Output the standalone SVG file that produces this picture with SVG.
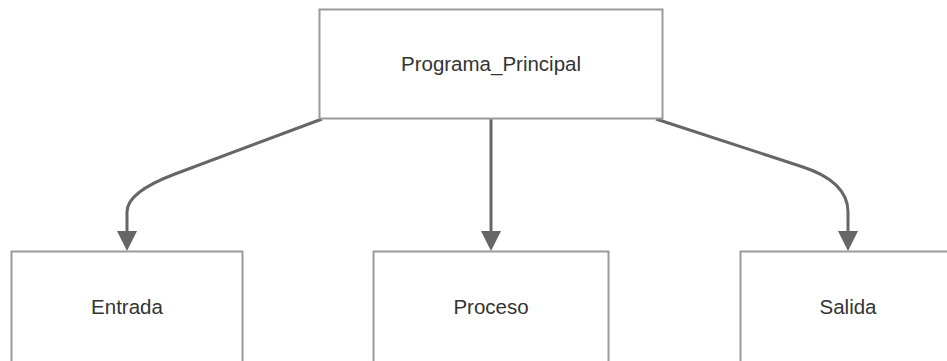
<svg xmlns="http://www.w3.org/2000/svg" width="947" height="361" viewBox="0 0 947 361">
  <style>
    .node rect { fill: #ffffff; stroke: #9a9a9a; stroke-width: 2; }
    .node text { font-family: "Liberation Sans", Arial, sans-serif; font-size: 20.5px; fill: #333333; text-anchor: middle; }
    .edge { fill: none; stroke: #666666; stroke-width: 3; }
  </style>
  <defs>
    <marker id="arrow" viewBox="0 0 10 10" refX="0" refY="5" markerUnits="userSpaceOnUse" markerWidth="20" markerHeight="21" orient="auto">
      <path d="M0,0 L10,5 L0,10 z" fill="#666666"/>
    </marker>
  </defs>

  <g id="connectors">
    <path class="edge" d="M322,119 L175,174 Q127,192 127,212 L127,231" marker-end="url(#arrow)"/>
    <path class="edge" d="M491,119 L491,231" marker-end="url(#arrow)"/>
    <path class="edge" d="M656,119 L800,166 Q848,181 848,212 L848,231" marker-end="url(#arrow)"/>
  </g>

  <g id="programa_principal" class="node">
    <rect x="319.5" y="9.5" width="343" height="109"/>
    <text x="491" y="71">Programa_Principal</text>
  </g>
  <g id="entrada" class="node">
    <rect x="11.5" y="251.5" width="231" height="112"/>
    <text x="127" y="314">Entrada</text>
  </g>
  <g id="proceso" class="node">
    <rect x="373.5" y="251.5" width="235" height="112"/>
    <text x="491" y="314">Proceso</text>
  </g>
  <g id="salida" class="node">
    <rect x="740.5" y="251.5" width="216" height="112"/>
    <text x="848" y="314">Salida</text>
  </g>
</svg>
